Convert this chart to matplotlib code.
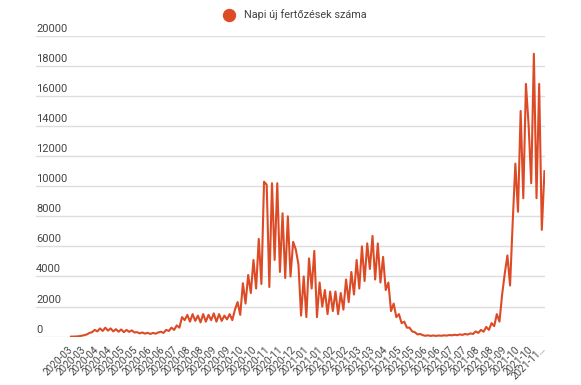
import matplotlib
matplotlib.use('Agg')
import matplotlib.pyplot as plt
import numpy as np
from matplotlib.lines import Line2D
from matplotlib.transforms import blended_transform_factory, offset_copy

plt.rcParams['font.family'] = ['Roboto', 'DejaVu Sans']

series_name = 'Napi új fertőzések száma'

tick_labels = [
    '2020-03', '2020-03', '2020-04', '2020-04', '2020-05', '2020-05', '2020-06', '2020-06',
    '2020-07', '2020-08', '2020-08', '2020-09', '2020-09', '2020-10', '2020-10', '2020-11',
    '2020-11', '2020-12',
    '2021-01', '2021-01', '2021-02', '2021-02', '2021-03', '2021-03', '2021-04', '2021-05',
    '2021-05', '2021-06', '2021-06', '2021-07', '2021-07', '2021-08', '2021-08', '2021-09',
    '2021-10', '2021-10', '2021-11…',
]

y_ticks = [0, 2000, 4000, 6000, 8000, 10000, 12000, 14000, 16000, 18000, 20000]

# semi-weekly readings of daily new infections
new_cases = [
    0, 5, 15, 30, 60, 100, 150, 250, 300,
    450, 350, 550, 380, 600, 400, 550, 350, 500, 330, 480, 300, 450, 320, 420, 280,
    300, 220, 280, 200, 260, 180, 250, 200, 280,
    330, 250, 450, 380, 600, 450, 750, 600,
    1300,
    1100, 1450, 1000, 1500, 1050, 1400, 950, 1500, 1000, 1450, 1100, 1550, 1000, 1500, 1050, 1400, 1150,
    1500, 1100, 1800, 2300, 1450, 3550, 2200, 4100, 2900, 5100, 3200, 6500, 3500,
    10300, 10100, 3300, 10200, 5100, 10200, 4300, 8200, 3900, 8000, 4000, 6300, 5800, 4800,
    1400, 4000, 1300, 5200, 3200, 5700, 1300, 3600, 2000, 3100, 1500, 3000, 1700, 3000, 1500, 2900, 1800,
    3800, 2300, 4300, 2800, 5100, 3200, 6000, 3700, 6200, 4500, 6700, 3800, 6200, 3600, 5300, 3100,
    3600, 1700, 2200, 1300, 1500, 900, 1000, 600, 600, 350, 300, 150, 180,
    100, 60, 90, 50, 80, 50, 80, 60, 90, 70, 110, 90, 130, 100, 150, 120, 180, 140, 220, 180,
    350, 250, 450, 330, 650, 450, 900, 700, 1500, 1000,
    2800, 4200, 5400, 3400, 7600, 11500, 8300, 15000, 9200, 16800, 14100, 10200, 18800, 9200,
    16800, 7100, 11000,
]

line_color = '#DD4B26'
text_color = '#444444'
grid_color = '#DDDDDD'

fig = plt.figure(figsize=(5.81, 3.85), dpi=100)
ax = fig.add_axes([0.062, 0.1255, 0.876, 0.7817])

x = np.arange(len(new_cases))
ax.plot(x, new_cases, color=line_color, lw=1.5, zorder=3)

n = len(new_cases) - 1
ax.set_xlim(-13.2, n + 0.2)
ax.set_ylim(0, 20000)

for s in ax.spines.values():
    s.set_visible(False)

trans = blended_transform_factory(ax.transAxes, ax.transData)
trans_lab = offset_copy(trans, fig=fig, x=0, y=1.5, units='points')
for v in y_ticks:
    ax.axhline(v, color=grid_color, lw=1.0, zorder=1)
    ax.text(0, v, str(v), transform=trans_lab, ha='left', va='bottom',
            fontsize=8, color=text_color)
ax.set_yticks([])

tick_pos = np.linspace(0, n, len(tick_labels))
ax.set_xticks(tick_pos)
ax.set_xticklabels(tick_labels, rotation=45, ha='right', va='center',
                   rotation_mode='anchor', fontsize=7.2, color=text_color)
ax.tick_params(axis='x', length=0, pad=8)

handle = Line2D([], [], marker='o', linestyle='', markersize=8.6, color=line_color)
ax.legend(handles=[handle], labels=[series_name], loc='center',
          bbox_to_anchor=(0.503, 0.961), bbox_transform=fig.transFigure,
          frameon=False, fontsize=7.8, handletextpad=0.4, labelcolor=text_color)

fig.savefig('out.png', dpi=100)
